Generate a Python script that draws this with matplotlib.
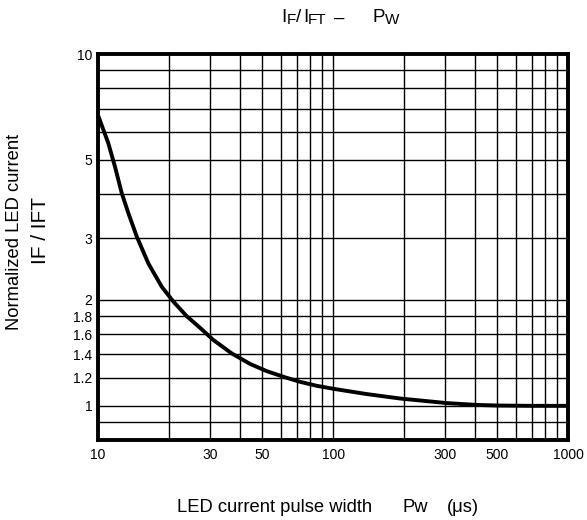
import matplotlib
matplotlib.use("Agg")
import matplotlib.pyplot as plt

plt.rcParams['font.family'] = ['Liberation Sans', 'DejaVu Sans']

# curve: pulse width (us) vs normalized LED current
pulse_width = [10, 11.06, 11.81, 12.62, 13.46, 14.61, 16.37, 18.67, 20.9, 23.8,
               27.2, 30.9, 37.0, 44.4, 52.2, 62.5, 72.4, 85.2, 100.3, 139,
               193, 305, 408, 500, 700, 1000]
norm_current = [6.7, 5.58, 4.78, 4.02, 3.53, 3.03, 2.54, 2.18, 1.98, 1.8,
                1.665, 1.54, 1.41, 1.315, 1.255, 1.205, 1.17, 1.14, 1.118, 1.08,
                1.049, 1.018, 1.006, 1.002, 1.0, 1.0]

x_ticks = [10, 30, 50, 100, 300, 500, 1000]
y_ticks = [1, 1.2, 1.4, 1.6, 1.8, 2, 3, 5, 10]
y_tick_labels = ['1', '1.2', '1.4', '1.6', '1.8', '2', '3', '5', '10']
x_grid = [20, 30, 40, 50, 60, 70, 80, 90, 100, 200, 300, 400, 500, 600, 700, 800, 900]
y_grid = [0.9, 1, 1.2, 1.4, 1.6, 1.8, 2, 3, 4, 5, 6, 7, 8, 9]

fig = plt.figure(figsize=(5.87, 5.20), dpi=100)
ax = fig.add_axes([0.167, 0.154, 0.801, 0.742])
ax.set_xscale('log')
ax.set_yscale('log')
ax.set_xlim(10, 1000)
ax.set_ylim(0.8, 10)

for xv in x_grid:
    ax.axvline(xv, color='black', lw=1.0, zorder=1)
for yv in y_grid:
    ax.axhline(yv, color='black', lw=1.0, zorder=1)

ax.plot(pulse_width, norm_current, color='black', lw=2.8, zorder=3,
        solid_joinstyle='round')

ax.minorticks_off()
ax.set_xticks(x_ticks)
ax.set_xticklabels([str(v) for v in x_ticks])
ax.set_yticks(y_ticks)
ax.set_yticklabels(y_tick_labels)
ax.tick_params(axis='x', length=0, labelsize=10, pad=6)
ax.tick_params(axis='y', length=0, labelsize=10, pad=4)
for s in ax.spines.values():
    s.set_linewidth(2.8)

# title built from pieces: big letters with smaller, slightly lowered subscripts
W, H = 587.0, 520.0
title_y = 1 - 18 / H
sub_y = 1 - 20 / H
pieces = [(281, 'I', 13.5, title_y), (287, 'F', 11, sub_y), (296, '/', 13.5, title_y),
          (303, 'I', 13.5, title_y), (308, 'FT', 11, sub_y), (334, '–', 13.5, title_y),
          (372, 'P', 13.5, title_y), (385, 'W', 11, sub_y)]
for px, s, fs, yy in pieces:
    fig.text(px / W, yy, s, ha='left', va='center', fontsize=fs)

fig.text(15 / W, 1 - 232 / H, 'Normalized LED current', rotation=90,
         ha='center', va='center', fontsize=13.2)
fig.text(40 / W, 1 - 230 / H, 'IF / IFT', rotation=90,
         ha='center', va='center', fontsize=15)
fig.text(177 / W, 1 - 508 / H, 'LED current pulse width', ha='left', va='center', fontsize=13.2)
fig.text(402 / W, 1 - 508 / H, 'Pw', ha='left', va='center', fontsize=13.2)
fig.text(447 / W, 1 - 508 / H, '(μs)', ha='left', va='center', fontsize=13.2)

fig.savefig('out.png', dpi=100)
